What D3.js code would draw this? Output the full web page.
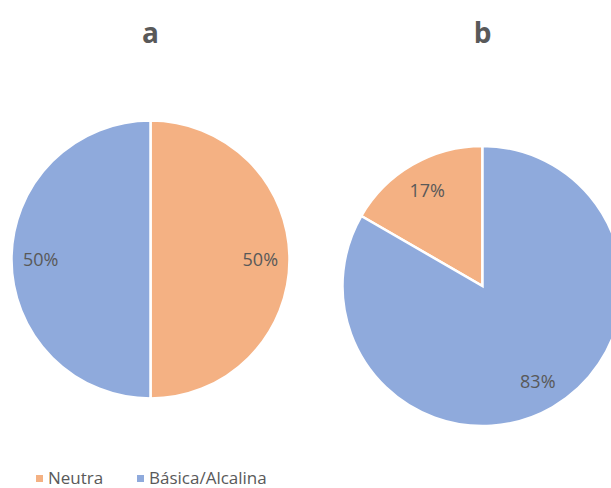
<!DOCTYPE html>
<html>
<head>
<meta charset="utf-8">
<script src="https://cdn.jsdelivr.net/npm/d3@7"></script>
<style>
  body { margin:0; background:#fff; }
  svg text { font-family: "Open Sans", "Liberation Sans", sans-serif; fill:#595959; }
</style>
</head>
<body>
<div class="chart"></div>
<script>
var categories = ["Neutra", "Básica/Alcalina"];
var colors = ["#F4B183", "#8FAADC"];
var titles = ["a", "b"];
var valuesA = [1, 1];
var valuesB = [1, 5];
// rotation of the first slice, degrees clockwise from 12 o'clock
var rotations = [0, -60];

var W = 611, H = 488;
var svg = d3.select(".chart").append("svg").attr("width", W).attr("height", H);

function renderPie(values, title, rot, cx, cy, r){
  var g = svg.append("g").attr("transform", "translate(" + cx + "," + cy + ")");
  var total = d3.sum(values);
  var start = rot * Math.PI / 180;
  var pie = d3.pie().sort(null).startAngle(start).endAngle(start + 2 * Math.PI);
  var arcs = pie(values);
  var arc = d3.arc().innerRadius(0).outerRadius(r);
  var labelArc = d3.arc().innerRadius(r * 0.79).outerRadius(r * 0.79);

  g.selectAll("path").data(arcs).enter().append("path")
    .attr("d", arc)
    .attr("fill", function(d, i){ return colors[i]; })
    .attr("stroke", "#fff")
    .attr("stroke-width", 2.5);

  g.selectAll("text.lbl").data(arcs).enter().append("text")
    .attr("class", "lbl")
    .attr("transform", function(d){ return "translate(" + labelArc.centroid(d) + ")"; })
    .attr("text-anchor", "middle")
    .attr("dy", "0.35em")
    .style("font-size", "18px")
    .text(function(d){ return Math.round(d.value / total * 100) + "%"; });

  svg.append("text")
    .attr("x", cx).attr("y", 43)
    .attr("text-anchor", "middle")
    .style("font-size", "28px")
    .style("font-weight", "bold")
    .text(title);
}

renderPie(valuesA, titles[0], rotations[0], 150.5, 259.5, 139);
renderPie(valuesB, titles[1], rotations[1], 482.5, 286, 140);

// legend
var legX = [36, 137];
var leg = svg.selectAll("g.leg").data(categories).enter().append("g")
  .attr("class", "leg")
  .attr("transform", function(d, i){ return "translate(" + legX[i] + ",478)"; });
leg.append("rect").attr("x", 0).attr("y", -3).attr("width", 7).attr("height", 7)
  .attr("fill", function(d, i){ return colors[i]; });
leg.append("text").attr("x", 12).attr("y", 0).attr("dy", "0.35em")
  .style("font-size", "17px")
  .text(function(d){ return d; });
</script>
</body>
</html>
